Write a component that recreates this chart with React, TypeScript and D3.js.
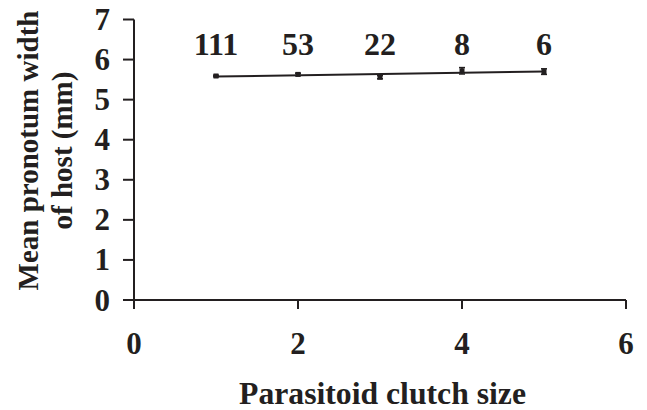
import React from "react";
import * as d3 from "d3";

const clutchSizes = [1, 2, 3, 4, 5];
const meanWidth = [5.59, 5.63, 5.56, 5.72, 5.7];
const stdErr = [0.02, 0.03, 0.04, 0.08, 0.07];
const sampleSizes = ["111", "53", "22", "8", "6"];
const xTicks = [0, 2, 4, 6];
const yTicks = [0, 1, 2, 3, 4, 5, 6, 7];

const W = 647;
const H = 410;
const FONT = "'Liberation Serif', 'Times New Roman', serif";
const INK = "#231f20";
const FS = 31;

function HText({ x, y, anchor, children, size = FS }: any) {
  return (
    <text x={x} y={y} textAnchor={anchor}
      fontFamily={FONT} fontWeight="bold" fontSize={size} fill={INK}>{children}</text>
  );
}

export default function App() {
  const x = d3.scaleLinear().domain([0, 6]).range([134, 626]);
  const y = d3.scaleLinear().domain([0, 7]).range([300, 19.5]);

  // linear regression trend line
  const mx = d3.mean(clutchSizes) as number;
  const my = d3.mean(meanWidth) as number;
  const slope =
    (d3.sum(clutchSizes, (v, i) => (v - mx) * (meanWidth[i] - my)) as number) /
    (d3.sum(clutchSizes, (v) => (v - mx) ** 2) as number);
  const intercept = my - slope * mx;
  const x0 = clutchSizes[0];
  const x1 = clutchSizes[clutchSizes.length - 1];
  const trend = d3.line<number>()
    .x((d) => x(d))
    .y((d) => y(intercept + slope * d))([x0, x1]) as string;

  return (
    <svg width={W} height={H} style={{ position: "absolute", left: 0, top: 0, background: "#fff" }}>
      <rect width={W} height={H} fill="#fff" />
      {/* axes */}
      <line x1={x(0)} x2={x(0)} y1={y(7)} y2={y(0) + 9} stroke={INK} strokeWidth={2} />
      <line x1={x(0) - 11} x2={x(6)} y1={y(0)} y2={y(0)} stroke={INK} strokeWidth={2} />
      {yTicks.map((t) => (
        <g key={"y" + t}>
          <line x1={x(0) - 11} x2={x(0)} y1={y(t)} y2={y(t)} stroke={INK} strokeWidth={2} />
          <HText x={110} y={y(t) + 10.5} anchor="end">{t}</HText>
        </g>
      ))}
      {xTicks.map((t) => (
        <g key={"x" + t}>
          <line x1={x(t)} x2={x(t)} y1={y(0)} y2={y(0) + 9} stroke={INK} strokeWidth={2} />
          <HText x={x(t)} y={354} anchor="middle">{t}</HText>
        </g>
      ))}
      {/* trend line */}
      <path d={trend} stroke={INK} strokeWidth={2} fill="none" />
      {/* error bars and points */}
      {clutchSizes.map((c, i) => (
        <g key={"p" + c}>
          <line x1={x(c)} x2={x(c)} y1={y(meanWidth[i] + stdErr[i])} y2={y(meanWidth[i] - stdErr[i])}
            stroke={INK} strokeWidth={1.5} />
          <line x1={x(c) - 3} x2={x(c) + 3} y1={y(meanWidth[i] + stdErr[i])} y2={y(meanWidth[i] + stdErr[i])}
            stroke={INK} strokeWidth={1.5} />
          <line x1={x(c) - 3} x2={x(c) + 3} y1={y(meanWidth[i] - stdErr[i])} y2={y(meanWidth[i] - stdErr[i])}
            stroke={INK} strokeWidth={1.5} />
          <rect x={x(c) - 2.5} y={y(meanWidth[i]) - 2.5} width={5} height={5} fill={INK} />
          <HText x={x(c)} y={55} anchor="middle" size={32}>{sampleSizes[i]}</HText>
        </g>
      ))}
      {/* titles */}
      <HText x={382.5} y={404} anchor="middle" size={31.7}>Parasitoid clutch size</HText>
      <g transform="translate(0,150.5) rotate(-90)">
        <text x={0} y={38} textAnchor="middle" fontFamily={FONT}
          fontWeight="bold" fontSize={29} fill={INK}>Mean pronotum width</text>
        <text x={0} y={72} textAnchor="middle" fontFamily={FONT}
          fontWeight="bold" fontSize={29} fill={INK}>of host (mm)</text>
      </g>
    </svg>
  );
}
